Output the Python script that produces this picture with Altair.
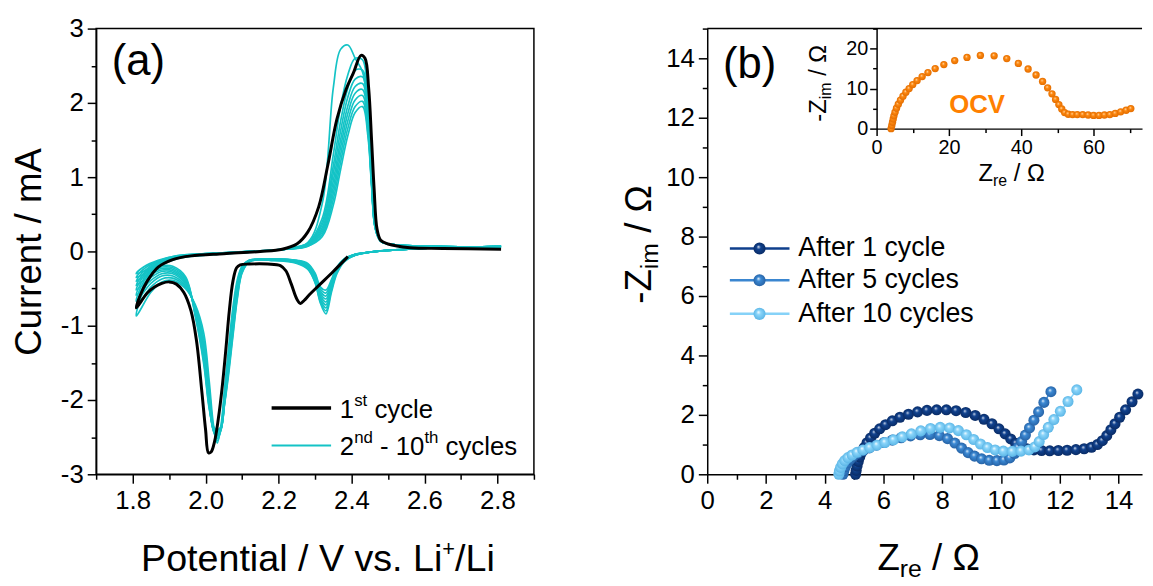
import altair as alt
import pandas as pd

FONT = "Liberation Sans"
CYAN = "#14C3C6"

# ---------------- (a) cyclic voltammetry data ----------------
# shared potential sweep for cycles 2-10 (cathodic 2.81 -> 1.81, anodic 1.81 -> 2.81), V
CV_SWEEP = [2.81, 2.65, 2.52, 2.45, 2.41, 2.38, 2.36, 2.345, 2.33, 2.315, 2.30, 2.28, 2.25, 2.18,
            2.12, 2.10, 2.087, 2.075, 2.062, 2.052, 2.042, 2.032, 2.022, 2.01, 1.995, 1.972, 1.945, 1.91,
            1.88, 1.85, 1.81,
            1.83, 1.87, 1.92, 2.00, 2.12, 2.22, 2.28,
            2.32, 2.35, 2.37, 2.39, 2.41, 2.43, 2.445, 2.455, 2.465, 2.48, 2.52, 2.62, 2.81]

# current (mA) of cycles 2..10 on that sweep
C2 = [0.07, 0.05, 0.02, -0.01, -0.05, -0.14, -0.30, -0.55, -0.84, -0.70, -0.42, -0.24, -0.16, -0.12,
      -0.12, -0.20, -0.38, -0.75, -1.35, -1.85, -2.35, -2.58, -2.35, -1.75, -1.10, -0.72, -0.50, -0.39,
      -0.41, -0.55, -0.87,
      -0.52, -0.22, -0.10, -0.05, -0.01, 0.04, 0.12,
      0.65, 2.20, 2.72, 2.78, 2.60, 2.42, 1.90, 1.00, 0.35, 0.14, 0.09, 0.07, 0.06]
C3 = [0.07, 0.05, 0.02, -0.01, -0.05, -0.13, -0.28, -0.52, -0.80, -0.68, -0.41, -0.23, -0.15, -0.12,
      -0.12, -0.21, -0.42, -0.82, -1.42, -1.90, -2.38, -2.55, -2.40, -1.85, -1.18, -0.74, -0.48, -0.36,
      -0.37, -0.48, -0.76,
      -0.46, -0.20, -0.09, -0.05, -0.01, 0.04, 0.11,
      0.45, 1.30, 1.95, 2.38, 2.60, 2.58, 1.95, 1.00, 0.35, 0.14, 0.09, 0.07, 0.06]
C4 = [0.07, 0.05, 0.02, -0.01, -0.05, -0.13, -0.27, -0.50, -0.76, -0.66, -0.40, -0.22, -0.15, -0.12,
      -0.12, -0.22, -0.45, -0.88, -1.48, -1.95, -2.40, -2.52, -2.42, -1.92, -1.25, -0.76, -0.46, -0.33,
      -0.33, -0.43, -0.67,
      -0.41, -0.18, -0.09, -0.04, -0.01, 0.03, 0.10,
      0.40, 1.15, 1.75, 2.20, 2.44, 2.44, 1.85, 0.98, 0.34, 0.14, 0.09, 0.07, 0.06]
C5 = [0.07, 0.05, 0.02, -0.01, -0.05, -0.12, -0.26, -0.48, -0.72, -0.63, -0.38, -0.21, -0.14, -0.11,
      -0.12, -0.23, -0.48, -0.93, -1.52, -1.98, -2.41, -2.50, -2.42, -1.98, -1.30, -0.78, -0.44, -0.30,
      -0.30, -0.39, -0.59,
      -0.37, -0.17, -0.08, -0.04, -0.01, 0.03, 0.09,
      0.36, 1.05, 1.62, 2.08, 2.32, 2.35, 1.80, 0.96, 0.33, 0.14, 0.09, 0.07, 0.06]
C6 = [0.07, 0.05, 0.02, -0.01, -0.05, -0.12, -0.25, -0.46, -0.68, -0.60, -0.37, -0.20, -0.14, -0.11,
      -0.13, -0.25, -0.52, -0.98, -1.56, -2.00, -2.40, -2.48, -2.42, -2.02, -1.35, -0.80, -0.42, -0.28,
      -0.27, -0.35, -0.52,
      -0.33, -0.16, -0.08, -0.04, 0.00, 0.03, 0.09,
      0.32, 0.95, 1.50, 1.96, 2.22, 2.26, 1.75, 0.95, 0.33, 0.14, 0.09, 0.07, 0.06]
C7 = [0.07, 0.05, 0.02, -0.01, -0.04, -0.11, -0.24, -0.44, -0.64, -0.57, -0.35, -0.19, -0.13, -0.11,
      -0.13, -0.26, -0.55, -1.02, -1.60, -2.02, -2.40, -2.46, -2.41, -2.05, -1.40, -0.82, -0.40, -0.26,
      -0.25, -0.31, -0.46,
      -0.30, -0.15, -0.07, -0.04, 0.00, 0.03, 0.08,
      0.29, 0.86, 1.40, 1.86, 2.13, 2.18, 1.70, 0.93, 0.32, 0.14, 0.09, 0.07, 0.06]
C8 = [0.07, 0.05, 0.02, -0.01, -0.04, -0.11, -0.23, -0.42, -0.60, -0.54, -0.33, -0.18, -0.13, -0.10,
      -0.13, -0.27, -0.58, -1.06, -1.63, -2.04, -2.39, -2.44, -2.40, -2.08, -1.44, -0.84, -0.38, -0.24,
      -0.23, -0.28, -0.40,
      -0.27, -0.14, -0.07, -0.03, 0.00, 0.03, 0.08,
      0.26, 0.78, 1.30, 1.76, 2.04, 2.10, 1.65, 0.92, 0.32, 0.14, 0.09, 0.07, 0.06]
C9 = [0.07, 0.05, 0.02, -0.01, -0.04, -0.10, -0.22, -0.40, -0.56, -0.51, -0.31, -0.17, -0.12, -0.10,
      -0.14, -0.28, -0.61, -1.10, -1.66, -2.05, -2.38, -2.42, -2.38, -2.10, -1.48, -0.86, -0.36, -0.22,
      -0.21, -0.26, -0.35,
      -0.24, -0.13, -0.06, -0.03, 0.00, 0.03, 0.07,
      0.23, 0.70, 1.20, 1.66, 1.95, 2.02, 1.60, 0.90, 0.31, 0.14, 0.09, 0.07, 0.06]
C10 = [0.07, 0.05, 0.02, -0.01, -0.04, -0.10, -0.21, -0.38, -0.52, -0.48, -0.29, -0.16, -0.12, -0.10,
       -0.14, -0.29, -0.64, -1.14, -1.70, -2.06, -2.36, -2.40, -2.36, -2.12, -1.52, -0.88, -0.34, -0.20,
       -0.19, -0.23, -0.30,
       -0.21, -0.12, -0.06, -0.03, 0.00, 0.03, 0.07,
       0.20, 0.62, 1.10, 1.56, 1.87, 1.95, 1.55, 0.88, 0.31, 0.14, 0.09, 0.07, 0.06]

# first cycle (starts at OCV, cathodic first)
FIRST_V = [2.39, 2.35, 2.31, 2.285, 2.27, 2.26, 2.25, 2.235, 2.22, 2.205, 2.17, 2.12, 2.095, 2.085,
           2.075, 2.065, 2.055, 2.045, 2.035, 2.025, 2.015, 2.008, 2.000, 1.990, 1.975, 1.960, 1.940,
           1.920, 1.900, 1.880, 1.860, 1.840, 1.810,
           1.820, 1.840, 1.870, 1.910, 1.960, 2.050, 2.150, 2.210, 2.250, 2.280, 2.310, 2.335, 2.360,
           2.385, 2.405, 2.426, 2.437, 2.447, 2.455, 2.462, 2.470, 2.480, 2.500, 2.560, 2.650, 2.810]
FIRST_I = [-0.07, -0.27, -0.46, -0.58, -0.66, -0.70, -0.64, -0.44, -0.26, -0.19, -0.17, -0.17, -0.18, -0.22,
           -0.40, -0.80, -1.35, -1.85, -2.25, -2.55, -2.70, -2.71, -2.40, -1.90, -1.20, -0.80, -0.55,
           -0.44, -0.41, -0.43, -0.48, -0.56, -0.76,
           -0.60, -0.40, -0.21, -0.11, -0.06, -0.03, 0.00, 0.03, 0.10, 0.26, 0.60, 1.16, 1.78,
           2.18, 2.40, 2.64, 2.60, 2.20, 1.50, 0.84, 0.30, 0.15, 0.10, 0.05, 0.04, 0.03]

CV_X_TICKS = [1.7, 1.8, 1.9, 2.0, 2.1, 2.2, 2.3, 2.4, 2.5, 2.6, 2.7, 2.8, 2.9]
CV_Y_TICKS = [-3, -2.5, -2, -1.5, -1, -0.5, 0, 0.5, 1, 1.5, 2, 2.5, 3]

# ---------------- (b) impedance data ----------------
Z1_RE = [5.05, 5.07, 5.10, 5.14, 5.19, 5.26, 5.34, 5.44, 5.56, 5.70, 5.87, 6.07, 6.30, 6.56, 6.85,
         7.16, 7.48, 7.81, 8.14, 8.47, 8.80, 9.12, 9.42, 9.69, 9.93, 10.14, 10.33, 10.50, 10.68, 10.88,
         11.12, 11.38, 11.66, 11.95, 12.25, 12.55, 12.83, 13.08, 13.28, 13.45, 13.60, 13.74, 13.88,
         14.04, 14.24, 14.46, 14.66]
Z1_IM = [0.00, 0.13, 0.28, 0.43, 0.58, 0.74, 0.90, 1.06, 1.22, 1.38, 1.53, 1.67, 1.80, 1.92, 2.02,
         2.10, 2.15, 2.17, 2.17, 2.14, 2.08, 1.98, 1.85, 1.70, 1.53, 1.36, 1.19, 1.04, 0.93, 0.86,
         0.82, 0.80, 0.79, 0.80, 0.81, 0.83, 0.86, 0.91, 1.00, 1.13, 1.30, 1.50, 1.70, 1.92, 2.17,
         2.44, 2.70]
Z5_RE = [4.62, 4.65, 4.70, 4.77, 4.86, 4.98, 5.13, 5.31, 5.52, 5.76, 6.02, 6.30, 6.60, 6.92, 7.25,
         7.58, 7.90, 8.18, 8.43, 8.66, 8.88, 9.10, 9.34, 9.60, 9.86, 10.10, 10.30, 10.46, 10.58, 10.70,
         10.83, 10.97, 11.12, 11.28, 11.46, 11.70]
Z5_IM = [0.00, 0.12, 0.25, 0.38, 0.50, 0.61, 0.71, 0.80, 0.89, 0.98, 1.07, 1.15, 1.23, 1.29, 1.33,
         1.34, 1.30, 1.20, 1.05, 0.88, 0.73, 0.61, 0.52, 0.47, 0.46, 0.48, 0.55, 0.70, 0.90, 1.10,
         1.32, 1.56, 1.82, 2.10, 2.42, 2.78]
Z10_RE = [4.48, 4.50, 4.54, 4.60, 4.68, 4.79, 4.93, 5.10, 5.30, 5.53, 5.78, 6.05, 6.34, 6.64, 6.95,
          7.27, 7.60, 7.93, 8.25, 8.55, 8.82, 9.07, 9.30, 9.54, 9.80, 10.08, 10.38, 10.68, 10.95,
          11.15, 11.30, 11.45, 11.61, 11.80, 12.02, 12.28, 12.58]
Z10_IM = [0.00, 0.11, 0.23, 0.35, 0.46, 0.56, 0.65, 0.74, 0.82, 0.90, 0.98, 1.07, 1.16, 1.26, 1.36,
          1.46, 1.54, 1.58, 1.56, 1.47, 1.33, 1.17, 1.02, 0.90, 0.82, 0.78, 0.77, 0.78, 0.82,
          0.92, 1.10, 1.34, 1.58, 1.84, 2.12, 2.45, 2.84]
OCV_RE = [4.0, 4.2, 4.4, 4.6, 4.8, 5.1, 5.5, 6.0, 6.6, 7.3, 8.1, 9.0, 10.0, 11.2, 12.6, 14.2, 16.2,
          18.6, 21.6, 25.0, 28.7, 32.5, 36.0, 39.2, 41.9, 44.1, 45.9, 47.3, 48.5, 49.5, 50.4, 51.2,
          52.0, 53.0, 54.2, 55.5, 57.0, 58.5, 60.0, 61.5, 63.0, 64.5, 66.0, 67.5, 69.0, 70.3]
OCV_IM = [0.0, 0.8, 1.6, 2.4, 3.2, 4.1, 5.1, 6.1, 7.1, 8.1, 9.1, 10.0, 11.0, 12.0, 13.0, 14.0, 15.0,
          16.0, 17.0, 17.8, 18.3, 18.2, 17.5, 16.3, 14.9, 13.4, 11.8, 10.2, 8.7, 7.3, 6.0, 4.9,
          4.0, 3.6, 3.5, 3.5, 3.5, 3.4, 3.3, 3.3, 3.4, 3.5, 3.8, 4.2, 4.6, 5.0]

EIS_LABELS = ["After 1 cycle", "After 5 cycles", "After 10 cycles"]
EIS_TICKS = list(range(0, 15))
INSET_X_TICKS = [0, 10, 20, 30, 40, 50, 60, 70]
INSET_Y_TICKS = [0, 5, 10, 15, 20, 25]

# ---------------- helpers ----------------
ARIAL = {' ': 278, '+': 584, '-': 333, '.': 278, '/': 278, '(': 333, ')': 333,
         'A': 667, 'C': 722, 'L': 556, 'O': 778, 'P': 667, 'V': 667, 'Z': 611,
         'a': 556, 'b': 556, 'c': 500, 'd': 556, 'e': 556, 'f': 278, 'h': 556, 'i': 222,
         'l': 222, 'm': 833, 'n': 556, 'o': 556, 'r': 333, 's': 500, 't': 278, 'v': 500,
         'y': 500, '\u03a9': 768}
for _d in '0123456789':
    ARIAL[_d] = 556


def tw(s, size):
    return sum(ARIAL.get(ch, 556) for ch in s) * size / 1000.0


def rich(pieces, xv, yv, xenc, yenc, anchor='center', angle=0, color='black', weight='normal'):
    widths = [tw(t, s) for t, s, _ in pieces]
    off = -sum(widths) / 2.0 if anchor == 'center' else 0.0
    out = []
    for (t, s, dy), w in zip(pieces, widths):
        lead = len(t) - len(t.lstrip(' '))
        d = pd.DataFrame({'x': [xv], 'y': [yv], 't': [t.strip(' ')]})
        out.append(alt.Chart(d).mark_text(
            align='left', baseline='middle', dx=off + tw(' ' * lead, s), dy=dy,
            fontSize=s, font=FONT, color=color, angle=angle, fontWeight=weight
        ).encode(x=xenc('x'), y=yenc('y'), text='t:N'))
        off += w
    return out


def cond(test, major, minor):
    return {"condition": {"test": test, "value": major}, "value": minor}


def ball(hi, base, dark):
    return {"gradient": "radial", "x1": 0.4, "y1": 0.35, "r1": 0.0,
            "x2": 0.5, "y2": 0.5, "r2": 0.5,
            "stops": [{"offset": 0.0, "color": hi}, {"offset": 0.35, "color": base},
                      {"offset": 1.0, "color": dark}]}


# ---------------- panel (a) ----------------
AX_XA = alt.Axis(values=CV_X_TICKS, title=None,
                 labelExpr="round(datum.value*10) % 2 === 0 ? format(datum.value, '.1f') : ''",
                 tickSize=cond("round(datum.value*10) % 2 === 0", 9, 5), labelPadding=5)
AX_YA = alt.Axis(values=CV_Y_TICKS, title="Current / mA", titleFontSize=37, titleFontWeight='normal',
                 titlePadding=12,
                 labelExpr="datum.value % 1 === 0 ? '' + datum.value : ''",
                 tickSize=cond("datum.value % 1 === 0", 9, 5), labelPadding=4)


def xa(f):
    return alt.X(f'{f}:Q', scale=alt.Scale(domain=[1.7, 2.9], nice=False, zero=False), axis=AX_XA)


def ya(f):
    return alt.Y(f'{f}:Q', scale=alt.Scale(domain=[-3, 3], nice=False, zero=False), axis=AX_YA)


rows = []
for name, vals in [('c2', C2), ('c3', C3), ('c4', C4), ('c5', C5), ('c6', C6), ('c7', C7),
                   ('c8', C8), ('c9', C9), ('c10', C10)]:
    assert len(vals) == len(CV_SWEEP), name
    for k, (v, i) in enumerate(zip(CV_SWEEP, vals)):
        rows.append({'cycle': name, 'k': k, 'V': v, 'I': i})
cyan_df = pd.DataFrame(rows)
assert len(FIRST_V) == len(FIRST_I)
first_df = pd.DataFrame({'k': range(len(FIRST_V)), 'V': FIRST_V, 'I': FIRST_I})

a_layers = [
    alt.Chart(cyan_df).mark_line(color=CYAN, strokeWidth=1.7, interpolate='catmull-rom').encode(
        x=xa('V'), y=ya('I'), detail='cycle:N', order='k:Q'),
    alt.Chart(first_df).mark_line(color='black', strokeWidth=3, interpolate='catmull-rom').encode(
        x=xa('V'), y=ya('I'), order='k:Q'),
]
leg_a = pd.DataFrame({'x0': [2.181, 2.181], 'x1': [2.344, 2.344], 'y': [-2.107, -2.613]})
a_layers.append(alt.Chart(leg_a.iloc[[0]]).mark_rule(color='black', strokeWidth=3.5).encode(
    x=xa('x0'), x2='x1', y=ya('y')))
a_layers.append(alt.Chart(leg_a.iloc[[1]]).mark_rule(color=CYAN, strokeWidth=2).encode(
    x=xa('x0'), x2='x1', y=ya('y')))
a_layers += rich([("1", 26, 0), ("st", 17, -9), (" cycle", 26, 0)], 2.368, -2.139, xa, ya,
                 anchor='left')
a_layers += rich([("2", 26, 0), ("nd", 17, -9), (" - 10", 26, 0), ("th", 17, -9),
                  (" cycles", 26, 0)], 2.368, -2.632, xa, ya, anchor='left')
a_layers += rich([("(a)", 44, 0)], 1.743, 2.55, xa, ya, anchor='left')
a_layers += rich([("Potential / V vs. Li", 38, 0), ("+", 22, -11), ("/Li", 38, 0)],
                 2.308, -4.15, xa, ya)

panel_a = alt.layer(*a_layers).properties(width=442, height=450)

# ---------------- panel (b) ----------------
XB_MAX = 14.8
AX_XB = alt.Axis(values=EIS_TICKS, title=None, labelPadding=5,
                 labelExpr="datum.value % 2 === 0 ? '' + datum.value : ''",
                 tickSize=cond("datum.value % 2 === 0", 9, 5))
AX_YB = alt.Axis(values=EIS_TICKS + [15], title=None, labelPadding=4,
                 labelExpr="datum.value % 2 === 0 ? '' + datum.value : ''",
                 tickSize=cond("datum.value % 2 === 0", 9, 5))
AX_XI = alt.Axis(values=INSET_X_TICKS, title=None, orient='bottom', offset=-349, labelFontSize=20,
                 labelPadding=2, labelExpr="datum.value % 20 === 0 ? '' + datum.value : ''",
                 tickSize=cond("datum.value % 20 === 0", 7, 4))
AX_YI = alt.Axis(values=INSET_Y_TICKS, title=None, orient='left', offset=-171, labelFontSize=20,
                 labelPadding=2, labelExpr="datum.value % 10 === 0 ? '' + datum.value : ''",
                 tickSize=cond("datum.value % 10 === 0", 7, 4))


def xb(f):
    return alt.X(f'{f}:Q', scale=alt.Scale(domain=[0, XB_MAX], nice=False, zero=False), axis=AX_XB)


def yb(f):
    return alt.Y(f'{f}:Q', scale=alt.Scale(domain=[0, 15], nice=False, zero=False), axis=AX_YB)


def xi(f):
    return alt.X(f'{f}:Q', scale=alt.Scale(domain=[0, 73.4], range=[171, 439], nice=False, zero=False),
                 axis=AX_XI)


def yi(f):
    return alt.Y(f'{f}:Q', scale=alt.Scale(domain=[0, 25], range=[101, 0], nice=False, zero=False),
                 axis=AX_YI)


SERIES = [
    (EIS_LABELS[0], Z1_RE, Z1_IM, "#0F3F8C", ball("#dfe6f3", "#10428f", "#0a2c66")),
    (EIS_LABELS[1], Z5_RE, Z5_IM, "#3A86D0", ball("#eef5fc", "#3b89d4", "#2763a6")),
    (EIS_LABELS[2], Z10_RE, Z10_IM, "#86D2F8", ball("#ffffff", "#8ad5fa", "#5cb6e6")),
]
LEG_B_Y = [7.6, 6.53, 5.4]

frame_top = pd.DataFrame({'x0': [0.0], 'x1': [XB_MAX], 'y': [15.0]})
b_layers = [alt.Chart(frame_top).mark_rule(color='black', strokeWidth=1.5).encode(
    x=xb('x0'), x2='x1', y=yb('y'))]
for (lab, zr, zi, col, grad), ly in zip(SERIES, LEG_B_Y):
    assert len(zr) == len(zi), lab
    d = pd.DataFrame({'k': range(len(zr)), 'x': zr, 'y': zi})
    b_layers.append(alt.Chart(d).mark_line(color=col, strokeWidth=1.5).encode(
        x=xb('x'), y=yb('y'), order='k:Q'))
    b_layers.append(alt.Chart(d).mark_point(filled=True, fill=grad, size=125, opacity=1,
                                            strokeWidth=0).encode(x=xb('x'), y=yb('y'), order='k:Q'))
    ld = pd.DataFrame({'x0': [0.77], 'x1': [2.8], 'xm': [1.78], 'y': [ly]})
    b_layers.append(alt.Chart(ld).mark_rule(color=col, strokeWidth=2.5).encode(
        x=xb('x0'), x2='x1', y=yb('y')))
    b_layers.append(alt.Chart(ld).mark_point(filled=True, fill=grad, size=150, opacity=1,
                                             strokeWidth=0).encode(x=xb('xm'), y=yb('y')))
    b_layers += rich([(lab, 27, 0)], 3.1, ly, xb, yb, anchor='left')

b_layers += rich([("(b)", 44, 0)], 0.54, 13.76, xb, yb, anchor='left')
b_layers += rich([("Z", 37, 0), ("re", 25, 10), (" / \u03a9", 37, 0)], 7.55, -2.85, xb, yb)
b_layers += rich([("-Z", 37, 0), ("im", 25, 11), (" / \u03a9", 37, 0)], -2.3, 7.75, xb, yb,
                 angle=270)

ORANGE = "#FF8000"
ocv_df = pd.DataFrame({'k': range(len(OCV_RE)), 'x': OCV_RE, 'y': OCV_IM})
assert len(OCV_RE) == len(OCV_IM)
i_layers = [
    alt.Chart(ocv_df).mark_point(filled=True, fill=ball("#fff0dd", "#ff8a10", "#e36d00"), size=55,
                                 opacity=1, strokeWidth=0).encode(x=xi('x'), y=yi('y'), order='k:Q'),
]
i_layers += rich([("OCV", 26, 0)], 27.8, 5.9, xi, yi, color=ORANGE, weight='bold')
i_layers += rich([("Z", 24, 0), ("re", 16, 7), (" / \u03a9", 24, 0)], 37.4, -11.3, xi, yi)
i_layers += rich([("-Z", 24, 0), ("im", 16, 7), (" / \u03a9", 24, 0)], -15.8, 11.4, xi, yi,
                 angle=270)

panel_b = alt.layer(alt.layer(*b_layers), alt.layer(*i_layers)).resolve_scale(
    x='independent', y='independent').resolve_axis(x='independent', y='independent').properties(
    width=439, height=450, view=alt.ViewBackground(stroke='transparent'))

chart = alt.hconcat(panel_a, panel_b, spacing=175, bounds='flush').properties(
    padding={"left": 2, "top": 4, "right": 0, "bottom": 0}, background='white'
).configure_view(stroke='black', strokeWidth=1.5).configure_axis(
    domainColor='black', domainWidth=1.5, tickColor='black', tickWidth=1.5,
    labelColor='black', labelFont=FONT, labelFontSize=26, titleFont=FONT, titleColor='black',
    grid=False, labelOverlap=False, labelFlush=False
).configure_text(font=FONT)

chart.save("out.html", embed_options={"renderer": "svg", "actions": False})
